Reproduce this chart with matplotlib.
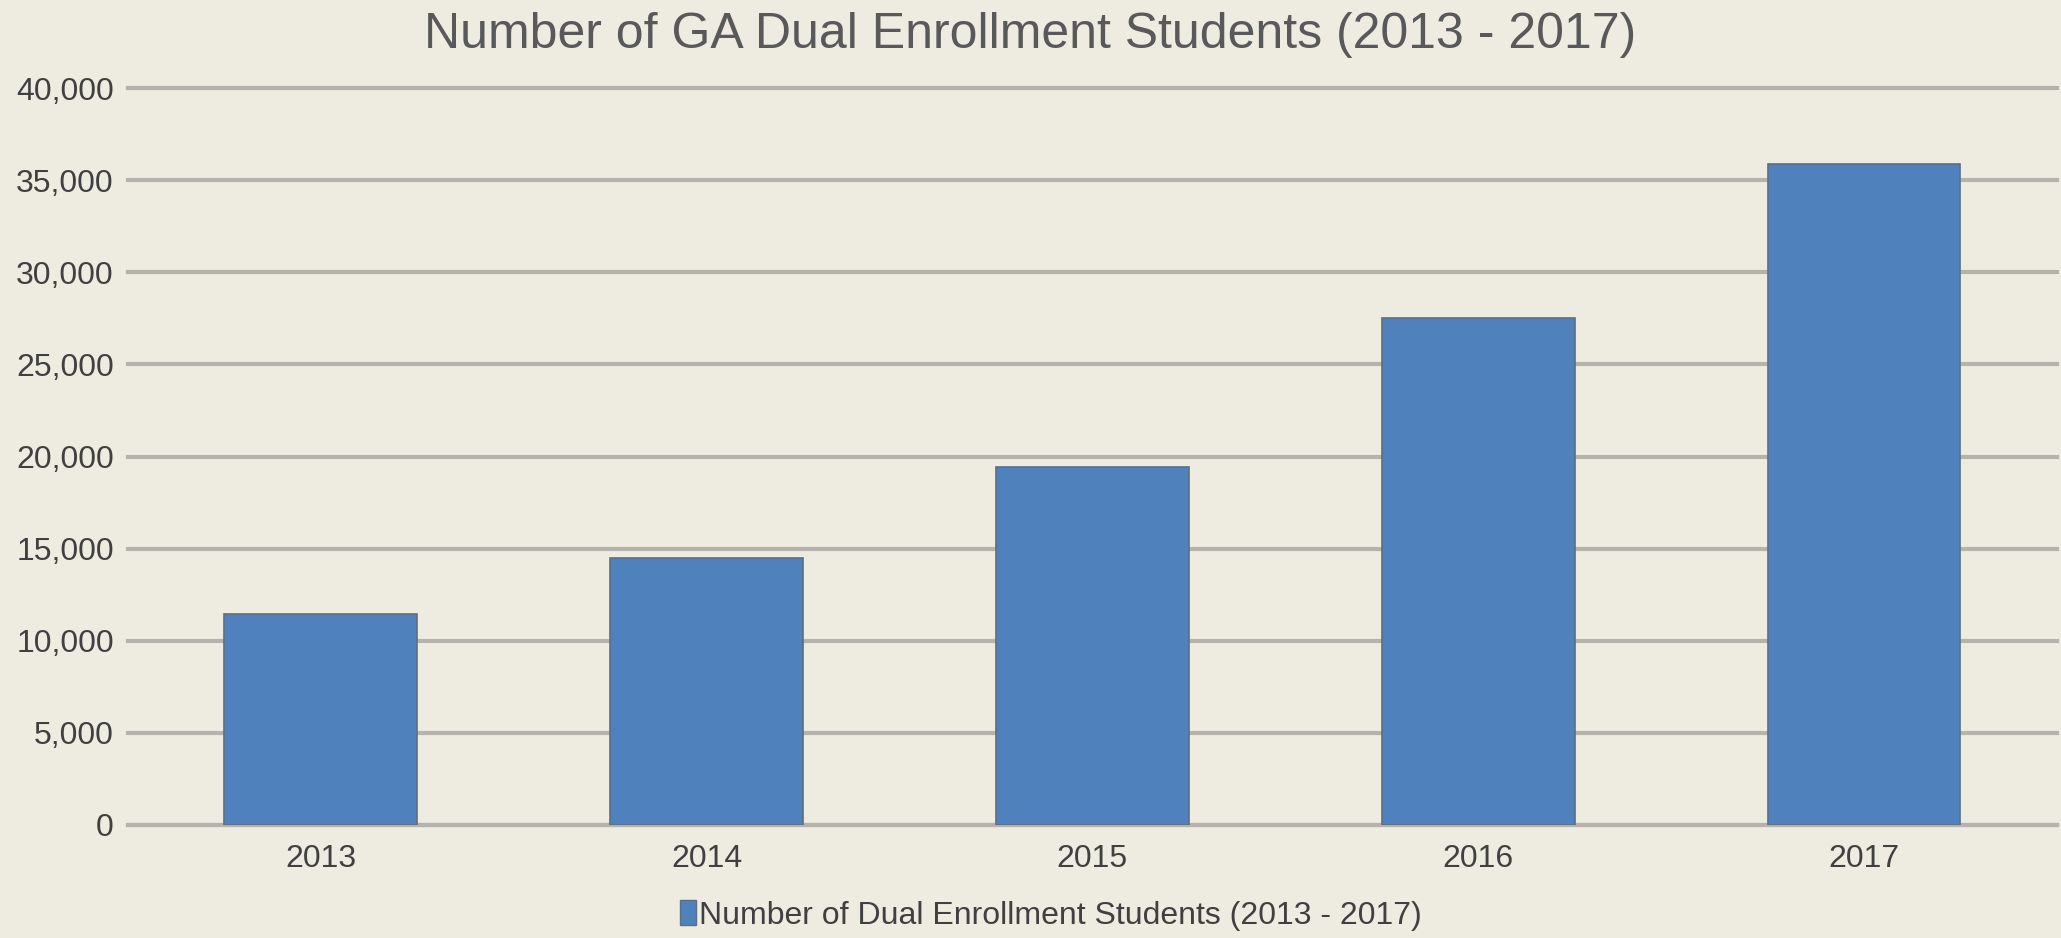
import matplotlib.pyplot as plt
from matplotlib.patches import Patch
from matplotlib.ticker import FuncFormatter

# Data
years = ['2013', '2014', '2015', '2016', '2017']
students = [11450, 14500, 19450, 27500, 35900]
series_name = 'Number of Dual Enrollment Students (2013 - 2017)'
title = 'Number of GA Dual Enrollment Students (2013 - 2017)'

bg = '#EEECE1'
bar_color = '#4F81BD'
grid_color = '#B5B3AB'
text_color = '#404040'

plt.rcParams['font.family'] = ['Liberation Sans', 'DejaVu Sans']

fig = plt.figure(figsize=(20.61, 9.38), dpi=100, facecolor=bg)
ax = fig.add_axes([0.062, 0.1205, 0.936, 0.7855])
ax.set_facecolor(bg)

x = range(len(years))
ax.bar(x, students, width=0.5, color=bar_color, edgecolor='#5A6E86',
       linewidth=1.2, zorder=3)

ax.set_xlim(-0.5, len(years) - 0.5)
ax.set_ylim(0, 40000)
ax.set_yticks(range(0, 40001, 5000))
ax.yaxis.set_major_formatter(FuncFormatter(lambda v, p: f'{int(v):,}'))
ax.set_xticks(list(x))
ax.set_xticklabels(years)

ax.grid(axis='y', color=grid_color, linewidth=3, zorder=0)
for gl in ax.get_ygridlines():
    gl.set_clip_on(False)
ax.tick_params(axis='both', length=0, colors=text_color, labelsize=23)
ax.tick_params(axis='y', pad=10)
ax.tick_params(axis='x', pad=14)
for s in ['top', 'right', 'left']:
    ax.spines[s].set_visible(False)
ax.spines['bottom'].set_color(grid_color)
ax.spines['bottom'].set_linewidth(3)

fig.text(0.5, 0.963, title, ha='center', va='center', fontsize=36,
         color='#595959')

handle = Patch(facecolor=bar_color, edgecolor='#5A6E86')
fig.legend([handle], [series_name], loc='center', bbox_to_anchor=(0.51, 0.024),
           frameon=False, fontsize=23, handlelength=0.5, handleheight=0.8,
           handletextpad=0.1, labelcolor=text_color)

fig.savefig('out.png', dpi=100, facecolor=bg)
